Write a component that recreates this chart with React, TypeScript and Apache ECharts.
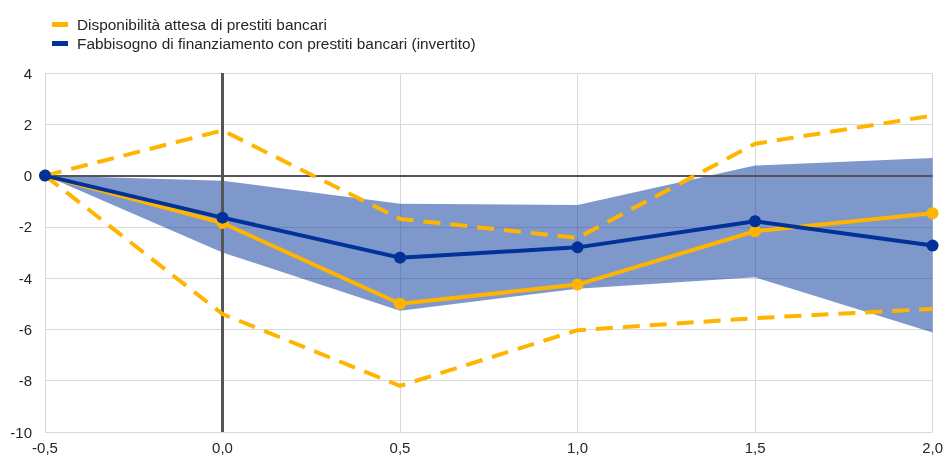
import React, { useEffect, useRef } from "react";
import * as echarts from "echarts";

const categories = ["-0,5", "0,0", "0,5", "1,0", "1,5", "2,0"];
const disponibilita = [0, -1.85, -5.0, -4.25, -2.17, -1.47];
const dispUpper = [0, 1.76, -1.69, -2.43, 1.24, 2.34];
const dispLower = [0, -5.4, -8.2, -6.03, -5.56, -5.2];
const fabbisogno = [0, -1.64, -3.2, -2.8, -1.78, -2.73];
const bandUpper = [0, -0.2, -1.1, -1.15, 0.39, 0.69];
const bandLower = [0, -3.0, -5.27, -4.41, -3.97, -6.12];
const yTicks = { min: -10, max: 4, interval: 2 };

const YELLOW = "#ffb400";
const BLUE = "#003299";

export default function App() {
  const ref = useRef<HTMLDivElement>(null);
  useEffect(() => {
    if (!ref.current) return;
    const chart = echarts.init(ref.current, null, { renderer: "svg" });
    const bandDiff = bandUpper.map((u, i) => +(u - bandLower[i]).toFixed(3));
    chart.setOption({
      animation: false,
      textStyle: { fontFamily: "Liberation Sans, Arial, sans-serif" },
      legend: {
        orient: "vertical",
        left: 47,
        top: 12,
        itemWidth: 16,
        itemHeight: 5,
        itemGap: 4,
        icon: "rect",
        data: [
          { name: "Disponibilità attesa di prestiti bancari", itemStyle: { color: YELLOW } },
          { name: "Fabbisogno di finanziamento con prestiti bancari (invertito)", itemStyle: { color: BLUE } },
        ],
        textStyle: { fontSize: 15.4, color: "#262626", padding: [0, 0, 0, 4] },
      },
      grid: { left: 45, right: 11, top: 73, bottom: 27, containLabel: false },
      xAxis: {
        type: "category",
        data: categories,
        boundaryGap: false,
        axisLine: { show: false },
        axisTick: { show: false },
        axisLabel: { fontSize: 15, color: "#262626", margin: 8 },
        splitLine: { show: true, lineStyle: { color: "#d9d9d9", width: 1 } },
      },
      yAxis: {
        type: "value",
        min: yTicks.min,
        max: yTicks.max,
        interval: yTicks.interval,
        axisLine: { show: false },
        axisTick: { show: false },
        axisLabel: { fontSize: 15, color: "#262626", margin: 13 },
        splitLine: { show: true, lineStyle: { color: "#d9d9d9", width: 1 } },
      },
      series: [
        {
          name: "bandLower",
          type: "line",
          stack: "band",
          stackStrategy: "all",
          data: bandLower,
          symbol: "none",
          lineStyle: { opacity: 0 },
          silent: true,
          z: 1,
        },
        {
          name: "bandDiff",
          type: "line",
          stack: "band",
          stackStrategy: "all",
          data: bandDiff,
          symbol: "none",
          lineStyle: { opacity: 0 },
          areaStyle: { color: "#0a3a9c", opacity: 0.52 },
          silent: true,
          z: 1,
          markLine: {
            silent: true,
            symbol: "none",
            label: { show: false },
            z: 3,
            data: [
              { yAxis: 0, lineStyle: { color: "#555", width: 2, type: "solid" } },
              { xAxis: "0,0", lineStyle: { color: "#555", width: 3, type: "solid" } },
            ],
          },
        },
        {
          name: "dispUpper",
          type: "line",
          data: dispUpper,
          symbol: "none",
          lineStyle: { color: YELLOW, width: 4, type: [17, 10] },
          z: 4,
        },
        {
          name: "dispLower",
          type: "line",
          data: dispLower,
          symbol: "none",
          lineStyle: { color: YELLOW, width: 4, type: [17, 10] },
          z: 4,
        },
        {
          name: "Disponibilità attesa di prestiti bancari",
          type: "line",
          data: disponibilita,
          symbol: "circle",
          symbolSize: 12,
          itemStyle: { color: YELLOW },
          lineStyle: { color: YELLOW, width: 4 },
          z: 5,
        },
        {
          name: "Fabbisogno di finanziamento con prestiti bancari (invertito)",
          type: "line",
          data: fabbisogno,
          symbol: "circle",
          symbolSize: 12,
          itemStyle: { color: BLUE },
          lineStyle: { color: BLUE, width: 4 },
          z: 6,
        },
      ],
    });
    return () => chart.dispose();
  }, []);
  return (
    <div
      ref={ref}
      style={{ position: "fixed", left: 0, top: 0, width: 946, height: 459 }}
    />
  );
}
